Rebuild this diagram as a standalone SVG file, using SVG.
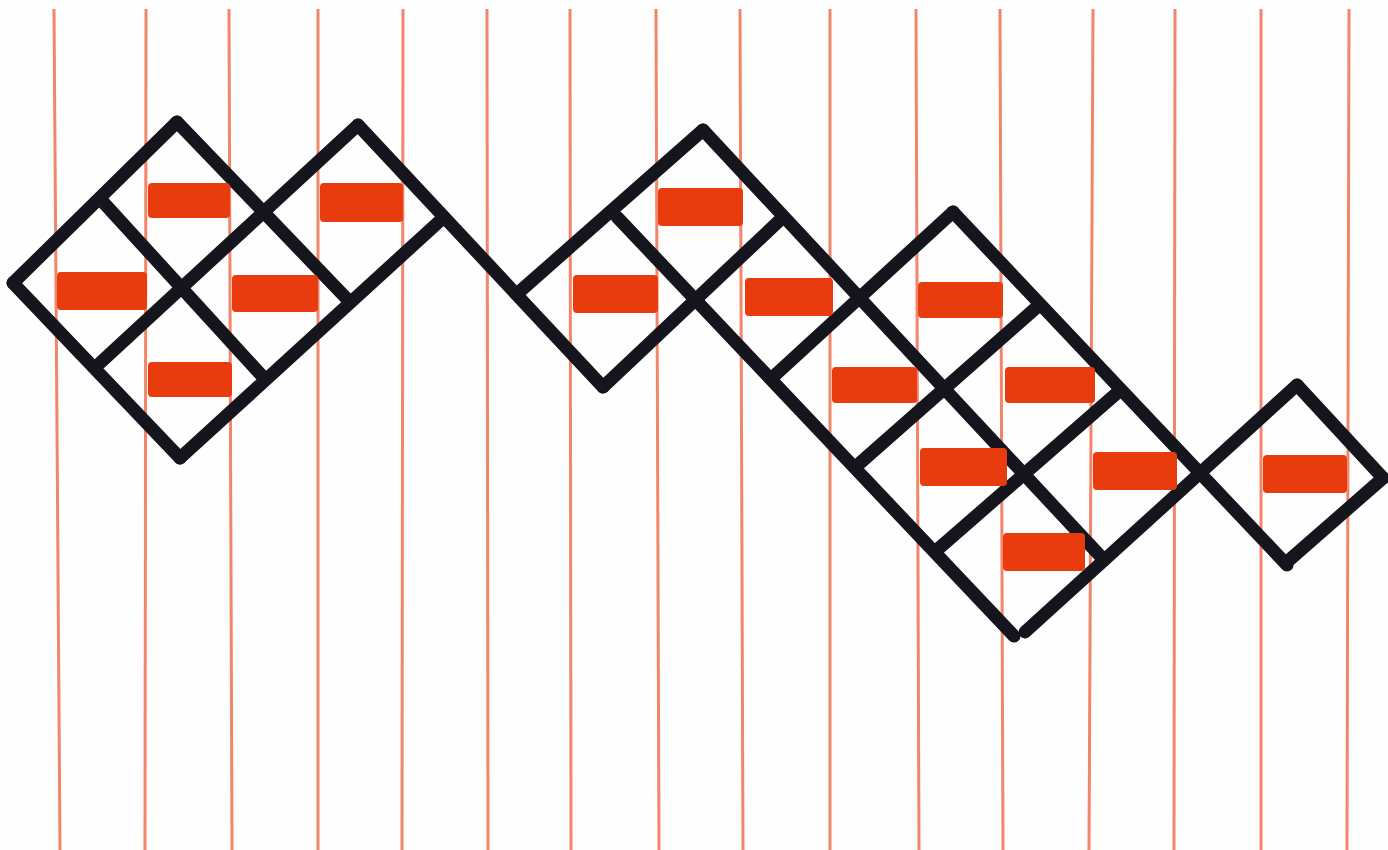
<svg xmlns="http://www.w3.org/2000/svg" width="1388" height="850" viewBox="0 0 1388 850">
  <style>
    .rule { stroke: #f2856a; stroke-width: 3; fill: none; }
    .ink { stroke: #15151e; stroke-width: 13; stroke-linecap: round; fill: none; }
    .dash { fill: #e83c0f; }
  </style>
  <rect x="0" y="0" width="1388" height="850" fill="#fefefe"/>
  <g id="ruling">
    <line class="rule" x1="54" y1="9" x2="60" y2="850"/>
    <line class="rule" x1="146" y1="9" x2="145" y2="850"/>
    <line class="rule" x1="229" y1="9" x2="232" y2="850"/>
    <line class="rule" x1="318" y1="9" x2="318" y2="850"/>
    <line class="rule" x1="403" y1="9" x2="402" y2="850"/>
    <line class="rule" x1="487" y1="9" x2="488" y2="850"/>
    <line class="rule" x1="570" y1="9" x2="571" y2="850"/>
    <line class="rule" x1="656" y1="9" x2="659" y2="850"/>
    <line class="rule" x1="740" y1="9" x2="743" y2="850"/>
    <line class="rule" x1="830" y1="9" x2="830" y2="850"/>
    <line class="rule" x1="916" y1="9" x2="919" y2="850"/>
    <line class="rule" x1="1000" y1="9" x2="1003" y2="850"/>
    <line class="rule" x1="1093" y1="9" x2="1089" y2="850"/>
    <line class="rule" x1="1175" y1="9" x2="1174" y2="850"/>
    <line class="rule" x1="1261" y1="9" x2="1261" y2="850"/>
    <line class="rule" x1="1349" y1="9" x2="1347" y2="850"/>
  </g>
  <g id="lattice">
    <line class="ink" x1="177" y1="122" x2="13" y2="283"/>
    <line class="ink" x1="13" y1="283" x2="180" y2="458"/>
    <line class="ink" x1="180" y1="458" x2="443" y2="218"/>
    <line class="ink" x1="177" y1="122" x2="348" y2="300"/>
    <line class="ink" x1="103" y1="202" x2="263" y2="377"/>
    <line class="ink" x1="100" y1="363" x2="358" y2="125"/>
    <line class="ink" x1="358" y1="125" x2="603" y2="387"/>
    <line class="ink" x1="518" y1="293" x2="703" y2="130"/>
    <line class="ink" x1="603" y1="387" x2="780" y2="220"/>
    <line class="ink" x1="703" y1="130" x2="1104" y2="560"/>
    <line class="ink" x1="617" y1="217" x2="1014" y2="636"/>
    <line class="ink" x1="773" y1="377" x2="953" y2="212"/>
    <line class="ink" x1="860" y1="463" x2="1037" y2="307"/>
    <line class="ink" x1="937" y1="550" x2="1117" y2="393"/>
    <line class="ink" x1="953" y1="212" x2="1287" y2="565"/>
    <line class="ink" x1="1025" y1="632" x2="1297" y2="385"/>
    <line class="ink" x1="1297" y1="385" x2="1383" y2="478"/>
    <line class="ink" x1="1383" y1="478" x2="1287" y2="562"/>
  </g>
  <g id="dashes">
    <rect class="dash" x="148" y="183" width="82" height="35" rx="4"/>
    <rect class="dash" x="57" y="272" width="90" height="38" rx="4"/>
    <rect class="dash" x="232" y="275" width="86" height="37" rx="4"/>
    <rect class="dash" x="148" y="362" width="84" height="35" rx="4"/>
    <rect class="dash" x="320" y="183" width="83" height="39" rx="4"/>
    <rect class="dash" x="658" y="188" width="85" height="38" rx="4"/>
    <rect class="dash" x="573" y="275" width="85" height="38" rx="4"/>
    <rect class="dash" x="745" y="278" width="88" height="38" rx="4"/>
    <rect class="dash" x="918" y="282" width="85" height="36" rx="4"/>
    <rect class="dash" x="832" y="367" width="85" height="36" rx="4"/>
    <rect class="dash" x="1005" y="367" width="90" height="36" rx="4"/>
    <rect class="dash" x="920" y="448" width="87" height="38" rx="4"/>
    <rect class="dash" x="1093" y="452" width="84" height="38" rx="4"/>
    <rect class="dash" x="1003" y="533" width="82" height="38" rx="4"/>
    <rect class="dash" x="1263" y="455" width="84" height="38" rx="4"/>
  </g>
</svg>
